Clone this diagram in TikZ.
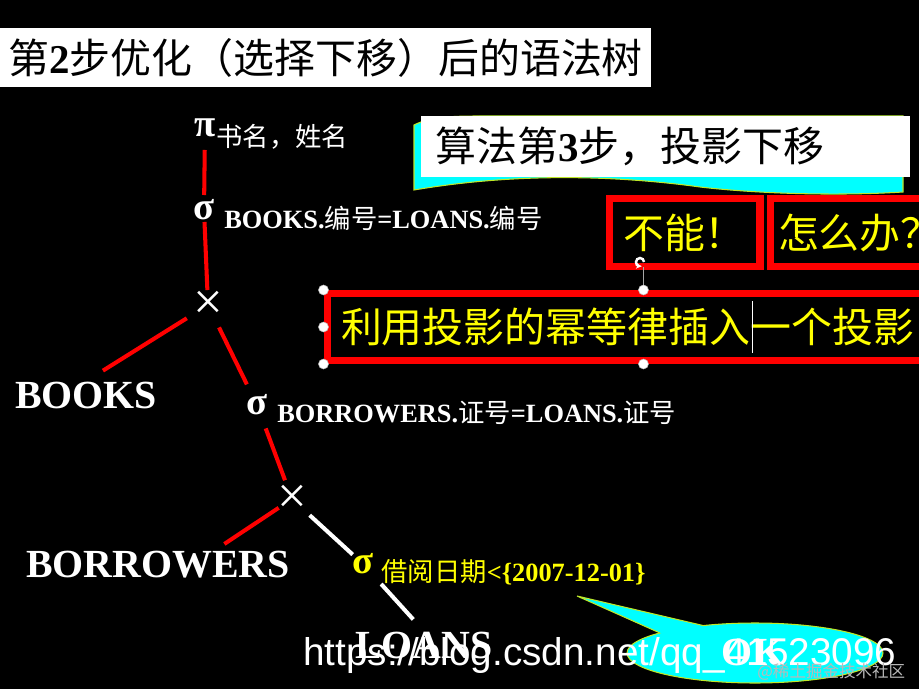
\documentclass[tikz,border=0pt]{standalone}
\usepackage{fontspec}
\setmainfont{Liberation Serif}
\newfontfamily\cjk{Noto Sans CJK SC}
\newfontfamily\urlfont{Liberation Sans}
\usetikzlibrary{calc,arrows.meta}
\definecolor{pptred}{RGB}{255,0,0}
\definecolor{pptyellow}{RGB}{255,255,0}
\definecolor{pptcyan}{RGB}{0,255,255}
\definecolor{rimgreen}{RGB}{190,230,40}
\newcommand{\zh}[1]{{\cjk\mdseries #1}}

\begin{document}
\begin{tikzpicture}[x=0.02cm,y=-0.02cm,
  redline/.style={draw=pptred,line width=2.3pt},
  whiteline/.style={draw=white,line width=2.3pt},
  op/.style={text=white,font=\fontsize{22}{22}\selectfont\bfseries,inner sep=0pt},
  cross/.style={text=white,font=\fontsize{30}{30}\selectfont,inner sep=0pt},
  rel/.style={text=white,font=\fontsize{22.7}{23}\selectfont\bfseries,inner sep=0pt},
  cond/.style={text=white,font=\fontsize{15}{15}\selectfont\bfseries,inner sep=0pt,anchor=west},
  banner/.style={fill=white,text=black,font=\cjk\fontsize{23.3}{24}\selectfont,anchor=west,align=left},
  redbox/.style={draw=pptred,line width=4pt,text=pptyellow,font=\cjk\fontsize{23.3}{24}\selectfont,
    anchor=west,minimum height=1.36cm,inner ysep=0pt}]
\useasboundingbox (0,0) rectangle (919,689);
\clip (0,0) rectangle (919,689);
\fill[black] (0,0) rectangle (919,689);

\node[banner,inner xsep=0.16cm,minimum height=1.18cm] (title) at (0,57.5)
  {第\textbf{\rmfamily 2}步优化（选择下移）后的语法树};

\filldraw[fill=pptcyan,draw=rimgreen,line width=0.6pt]
  (414,125) .. controls (430,117) and (450,116) .. (480,116) -- (903,116) -- (903,192)
  .. controls (840,196) and (760,194) .. (700,187)
  .. controls (620,176) and (520,172) .. (414,190) -- cycle;
\node[banner,inner xsep=0.28cm,text width=9.22cm,minimum height=1.22cm] (step3) at (421,146.5)
  {算法第\textbf{\rmfamily 3}步，投影下移};

\node[redbox,inner xsep=0.25cm,minimum width=3.02cm,align=left] (nobox) at (605.5,232.5) {不能！};
\node[redbox,inner xsep=0.16cm] (howbox) at (766.5,232.5) {怎么办？};

\node[redbox,inner xsep=0.28cm,text width=12.1cm,align=left,minimum height=1.34cm] (bigbox) at (323.5,327)
  {利用投影的幂等律插入一个投影};
\draw[gray!70,line width=0.4pt] (bigbox.north) -- ++(0,-23);
\draw[white,line width=1.4pt,-{Stealth[length=3pt]}] (644,262) arc[start angle=0,end angle=280,radius=0.08cm];
\foreach \a in {north west,west,south west,north,south}
  \filldraw[fill=white,draw=gray!50,line width=0.3pt] (bigbox.\a) circle (0.1cm);
\draw[white,line width=0.5pt] (752,301) -- (752,353);

\node[op] (pi) at (205,128) {π};
\node[cond,font=\fontsize{15}{15}\selectfont] (pisub) at (216,137) {\zh{书名，姓名}};
\node[op] (sel1) at (204,210) {σ};
\node[cond] (sel1sub) at (224,218) {BOOKS.\zh{编号}=LOANS.\zh{编号}};
\node[cross] (join1) at (208,305) {×};
\node[rel] (books) at (86,395) {BOOKS};
\node[op] (sel2) at (257,405) {σ};
\node[cond] (sel2sub) at (277,413) {BORROWERS.\zh{证号}=LOANS.\zh{证号}};
\node[cross] (join2) at (292,499) {×};
\node[rel] (borrowers) at (158,565) {BORROWERS};
\node[op,text=pptyellow] (sel3) at (363,564) {σ};
\node[cond,text=pptyellow] (sel3sub) at (381,572) {\zh{借阅日期}<\{2007-12-01\}};
\node[rel] (loans) at (424,645) {LOANS};

\draw[redline,shorten <=0.44cm,shorten >=0.3cm] (pi.center) -- (sel1.center);
\draw[redline,shorten <=0.24cm,shorten >=0.3cm] (sel1.center) -- (join1.center);
\draw[redline,shorten <=0.5cm,shorten >=0.4cm] (join1.center) -- (books.north);
\draw[redline,shorten <=0.5cm,shorten >=0.46cm] (join1.center) -- (sel2.center);
\draw[redline,shorten <=0.5cm,shorten >=0.4cm] (sel2.center) -- (join2.center);
\draw[redline,shorten <=0.32cm,shorten >=0.26cm] (join2.center) -- ($(borrowers.north)!.42!(borrowers.north east)$);
\draw[whiteline,shorten <=0.48cm,shorten >=0.28cm] (join2.center) -- (sel3.center);
\draw[whiteline,shorten <=0.54cm,shorten >=0.32cm] (sel3.center) -- (loans.north);

\filldraw[fill=pptcyan,draw=rimgreen,line width=0.6pt] (755,653) ellipse[x radius=2.56cm,y radius=0.6cm];
\fill[pptcyan] (577,596) -- (660,633) -- (690,645) -- (703,625.5) -- cycle;
\draw[rimgreen,line width=0.6pt] (660,633) -- (577,596) -- (703,625.5);
\node[rel] (ok) at (753,652) {OK};

\node[anchor=west,text=white,font=\urlfont\fontsize{22}{22}\selectfont,inner sep=0pt] (url) at (303,655)
  {https://blog.csdn.net/qq\_41523096};
\node[anchor=west,text=gray!55,font=\cjk\fontsize{9.4}{10}\selectfont,inner sep=0pt] (mark) at (757,672)
  {@稀土掘金技术社区};
\end{tikzpicture}
\end{document}
